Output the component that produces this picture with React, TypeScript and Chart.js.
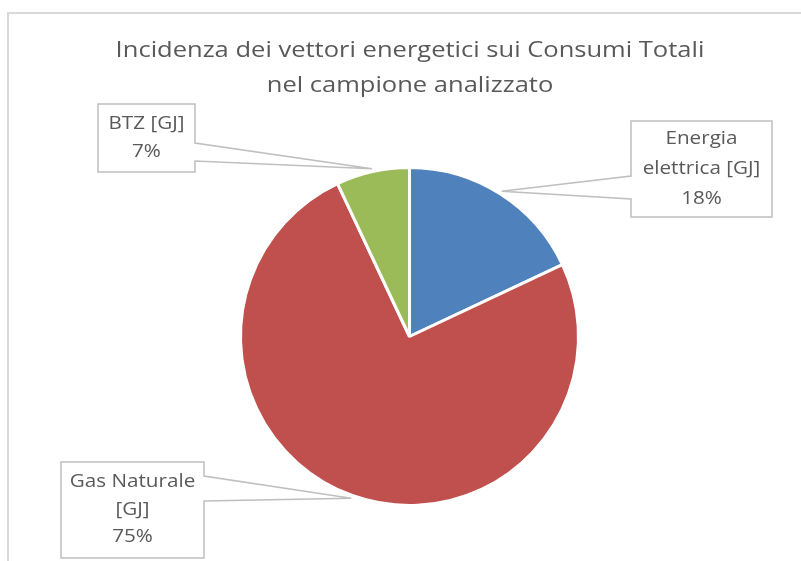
import React, { useEffect, useRef } from "react";
import { Chart, registerables } from "chart.js";

Chart.register(...registerables);

const titleLines = ["Incidenza dei vettori energetici sui Consumi Totali", "nel campione analizzato"];
const categories = ["Energia elettrica [GJ]", "Gas Naturale [GJ]", "BTZ [GJ]"];
const values = [18, 75, 7];
const sliceColors = ["#4F81BD", "#C0504D", "#9BBB59"];
const labelLines = [
  ["Energia", "elettrica [GJ]", "18%"],
  ["Gas Naturale", "[GJ]", "75%"],
  ["BTZ [GJ]", "7%"],
];

// callout boxes: x, y, w, h, side of tail, tail base y range
const callouts = [
  { x: 631, y: 121, w: 141, h: 96, side: "left", t1: 176, t2: 199, lh: 30 },
  { x: 61, y: 462, w: 143, h: 96, side: "right", t1: 476, t2: 501, lh: 27.5 },
  { x: 98, y: 104, w: 97, h: 68, side: "right", t1: 143, t2: 161, lh: 28 },
];

const FONT = "'Open Sans', sans-serif";

function stretchedText(ctx: any, text: string, x: number, y: number, sx: number) {
  ctx.save();
  ctx.translate(x, y);
  ctx.scale(sx, 1);
  ctx.fillText(text, 0, 0);
  ctx.restore();
}

const framePlugin = {
  id: "frame",
  beforeDraw(chart: any) {
    const ctx = chart.ctx;
    ctx.save();
    ctx.fillStyle = "#ffffff";
    ctx.fillRect(0, 0, chart.width, chart.height);
    ctx.strokeStyle = "#D9D9D9";
    ctx.lineWidth = 2;
    ctx.beginPath();
    ctx.moveTo(8, chart.height);
    ctx.lineTo(8, 13);
    ctx.lineTo(chart.width, 13);
    ctx.stroke();
    ctx.fillStyle = "#595959";
    ctx.font = `22px ${FONT}`;
    ctx.textAlign = "center";
    ctx.textBaseline = "middle";
    stretchedText(ctx, titleLines[0], 410, 51, 1.16);
    stretchedText(ctx, titleLines[1], 410, 86, 1.16);
    ctx.restore();
  },
};

const calloutPlugin = {
  id: "callouts",
  afterDatasetsDraw(chart: any) {
    const ctx = chart.ctx;
    const meta = chart.getDatasetMeta(0);
    meta.data.forEach((arc: any, i: number) => {
      const { x, y, startAngle, endAngle, outerRadius } = arc.getProps(
        ["x", "y", "startAngle", "endAngle", "outerRadius"],
        true
      );
      const mid = (startAngle + endAngle) / 2;
      const tx = x + Math.cos(mid) * (outerRadius + 3);
      const ty = y + Math.sin(mid) * (outerRadius + 3);
      const c = callouts[i];
      ctx.save();
      ctx.beginPath();
      if (c.side === "right") {
        const rx = c.x + c.w;
        ctx.moveTo(c.x, c.y);
        ctx.lineTo(rx, c.y);
        ctx.lineTo(rx, c.t1);
        ctx.lineTo(tx, ty);
        ctx.lineTo(rx, c.t2);
        ctx.lineTo(rx, c.y + c.h);
        ctx.lineTo(c.x, c.y + c.h);
      } else {
        ctx.moveTo(c.x, c.y);
        ctx.lineTo(c.x + c.w, c.y);
        ctx.lineTo(c.x + c.w, c.y + c.h);
        ctx.lineTo(c.x, c.y + c.h);
        ctx.lineTo(c.x, c.t2);
        ctx.lineTo(tx, ty);
        ctx.lineTo(c.x, c.t1);
      }
      ctx.closePath();
      ctx.fillStyle = "#ffffff";
      ctx.fill();
      ctx.strokeStyle = "#BFBFBF";
      ctx.lineWidth = 1.5;
      ctx.stroke();
      ctx.fillStyle = "#595959";
      ctx.font = `17.5px ${FONT}`;
      ctx.textAlign = "center";
      ctx.textBaseline = "middle";
      const lines = labelLines[i];
      const cx = c.x + c.w / 2;
      const cy = c.y + c.h / 2;
      const start = cy - ((lines.length - 1) * c.lh) / 2;
      lines.forEach((ln, k) => stretchedText(ctx, ln, cx, start + k * c.lh, 1.18));
      ctx.restore();
    });
  },
};

export default function App() {
  const ref = useRef<HTMLCanvasElement>(null);
  useEffect(() => {
    if (!ref.current) return;
    const chart = new Chart(ref.current, {
      type: "pie",
      data: {
        labels: categories,
        datasets: [
          {
            data: values,
            backgroundColor: sliceColors,
            borderColor: "#ffffff",
            borderWidth: 3,
          },
        ],
      },
      options: {
        animation: false,
        responsive: false,
        layout: { padding: { left: 239, right: 221, top: 166, bottom: 54 } },
        plugins: {
          legend: { display: false },
          tooltip: { enabled: false },
          title: { display: false },
        },
      },
      plugins: [framePlugin, calloutPlugin],
    });
    return () => chart.destroy();
  }, []);
  return (
    <div style={{ position: "fixed", left: 0, top: 0, width: 801, height: 561 }}>
      <canvas ref={ref} width={801} height={561} />
    </div>
  );
}
